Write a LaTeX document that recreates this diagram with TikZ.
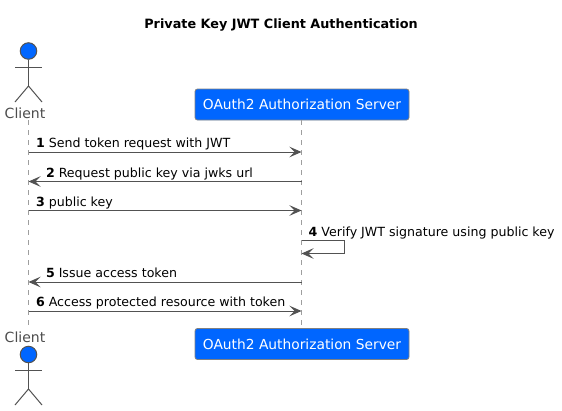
\documentclass[tikz,border=0pt]{standalone}
\usepackage{fontspec}
\setmainfont{DejaVu Sans}
\usetikzlibrary{positioning, arrows.meta}

\begin{document}
\begin{tikzpicture}[
  x=1pt, y=-1pt,
  font=\fontsize{12.6}{15}\selectfont,
  ink/.style={draw=black!68, line width=1pt},
  arr/.style={ink, -{Stealth[length=12pt, width=10.5pt, inset=5pt]}},
  msg/.style={anchor=base west, inner sep=0pt, text=black},
  lifeline/.style={draw=black!38, line width=0.8pt, dash pattern=on 5pt off 5pt},
  server/.style={rectangle, draw=black!50, line width=0.8pt, rounded corners=2.5pt, fill=oauthblue, text=white, minimum width=214pt, minimum height=31pt, inner sep=0pt, font=\fontsize{13.8}{16}\selectfont},
  head/.style={circle, draw=black!68, line width=1pt, fill=oauthblue, minimum size=16.5pt, inner sep=0pt},
  actor/.style={text=black!70, inner sep=0pt, font=\fontsize{14}{16}\selectfont}
]
  \definecolor{oauthblue}{HTML}{0066FF}
  \useasboundingbox (0,0) rectangle (562,410);
  \node[inner sep=0pt, font=\bfseries\fontsize{12.8}{15}\selectfont] (title) at (281,25) {Private Key JWT Client Authentication};

  \node[head] (clienttop) at (28.5,51) {};
  \node[actor] (clientlabeltop) at (25,113) {Client};
  \draw[ink] (15,67) coordinate (armla) -- (42,67) coordinate (armra);
  \draw[ink] (clienttop) -- (28.5,86) coordinate (hipa);
  \draw[ink] (15,102) coordinate (footla) -- (hipa) -- (42,102) coordinate (footra);

  \node[actor] (clientlabelbot) at (25,337) {Client};
  \node[head] (clientbot) at (28.5,354.5) {};
  \draw[ink] (15,370) coordinate (armlb) -- (42,370) coordinate (armrb);
  \draw[ink] (clientbot) -- (28.5,389) coordinate (hipb);
  \draw[ink] (15,405) coordinate (footlb) -- (hipb) -- (42,405) coordinate (footrb);

  \node[server] (servertop) at (302,104.5) {OAuth2 Authorization Server};
  \node[server] (serverbot) at (302,344) {OAuth2 Authorization Server};

  \coordinate (clientstart) at (28.5,120);
  \coordinate (clientend) at (28.5,327);
  \draw[lifeline] (clientstart) -- (clientend);
  \draw[lifeline] (servertop.south -| 301.5,0) -- (serverbot.north -| 301.5,0);

  \coordinate (c1) at (28.5,152);
  \coordinate (s1) at (301.5,152);
  \coordinate (c2) at (28.5,181.5);
  \coordinate (s2) at (301.5,181.5);
  \coordinate (c3) at (28.5,210.5);
  \coordinate (s3) at (301.5,210.5);
  \coordinate (s4a) at (301.5,240.5);
  \coordinate (s4b) at (301.5,253.5);
  \coordinate (c5) at (28.5,282);
  \coordinate (s5) at (301.5,282);
  \coordinate (c6) at (28.5,311);
  \coordinate (s6) at (301.5,311);

  \draw[arr] (c1) -- (s1) node[msg, pos=0, xshift=7pt, yshift=4.5pt] {\textbf{1} Send token request with JWT};
  \draw[arr] (s2) -- (c2) node[msg, pos=1, xshift=17pt, yshift=4.5pt] {\textbf{2} Request public key via jwks url};
  \draw[arr] (c3) -- (s3) node[msg, pos=0, xshift=7pt, yshift=4.5pt] {\textbf{3} public key};
  \draw[arr] (s4a) -- ++(43,0) |- (s4b);
  \node[msg, above right=4.5pt and 7pt of s4a, anchor=base west] (selflabel) {\textbf{4} Verify JWT signature using public key};
  \draw[arr] (s5) -- (c5) node[msg, pos=1, xshift=17pt, yshift=4.5pt] {\textbf{5} Issue access token};
  \draw[arr] (c6) -- (s6) node[msg, pos=0, xshift=7pt, yshift=4.5pt] {\textbf{6} Access protected resource with token};
\end{tikzpicture}
\end{document}
